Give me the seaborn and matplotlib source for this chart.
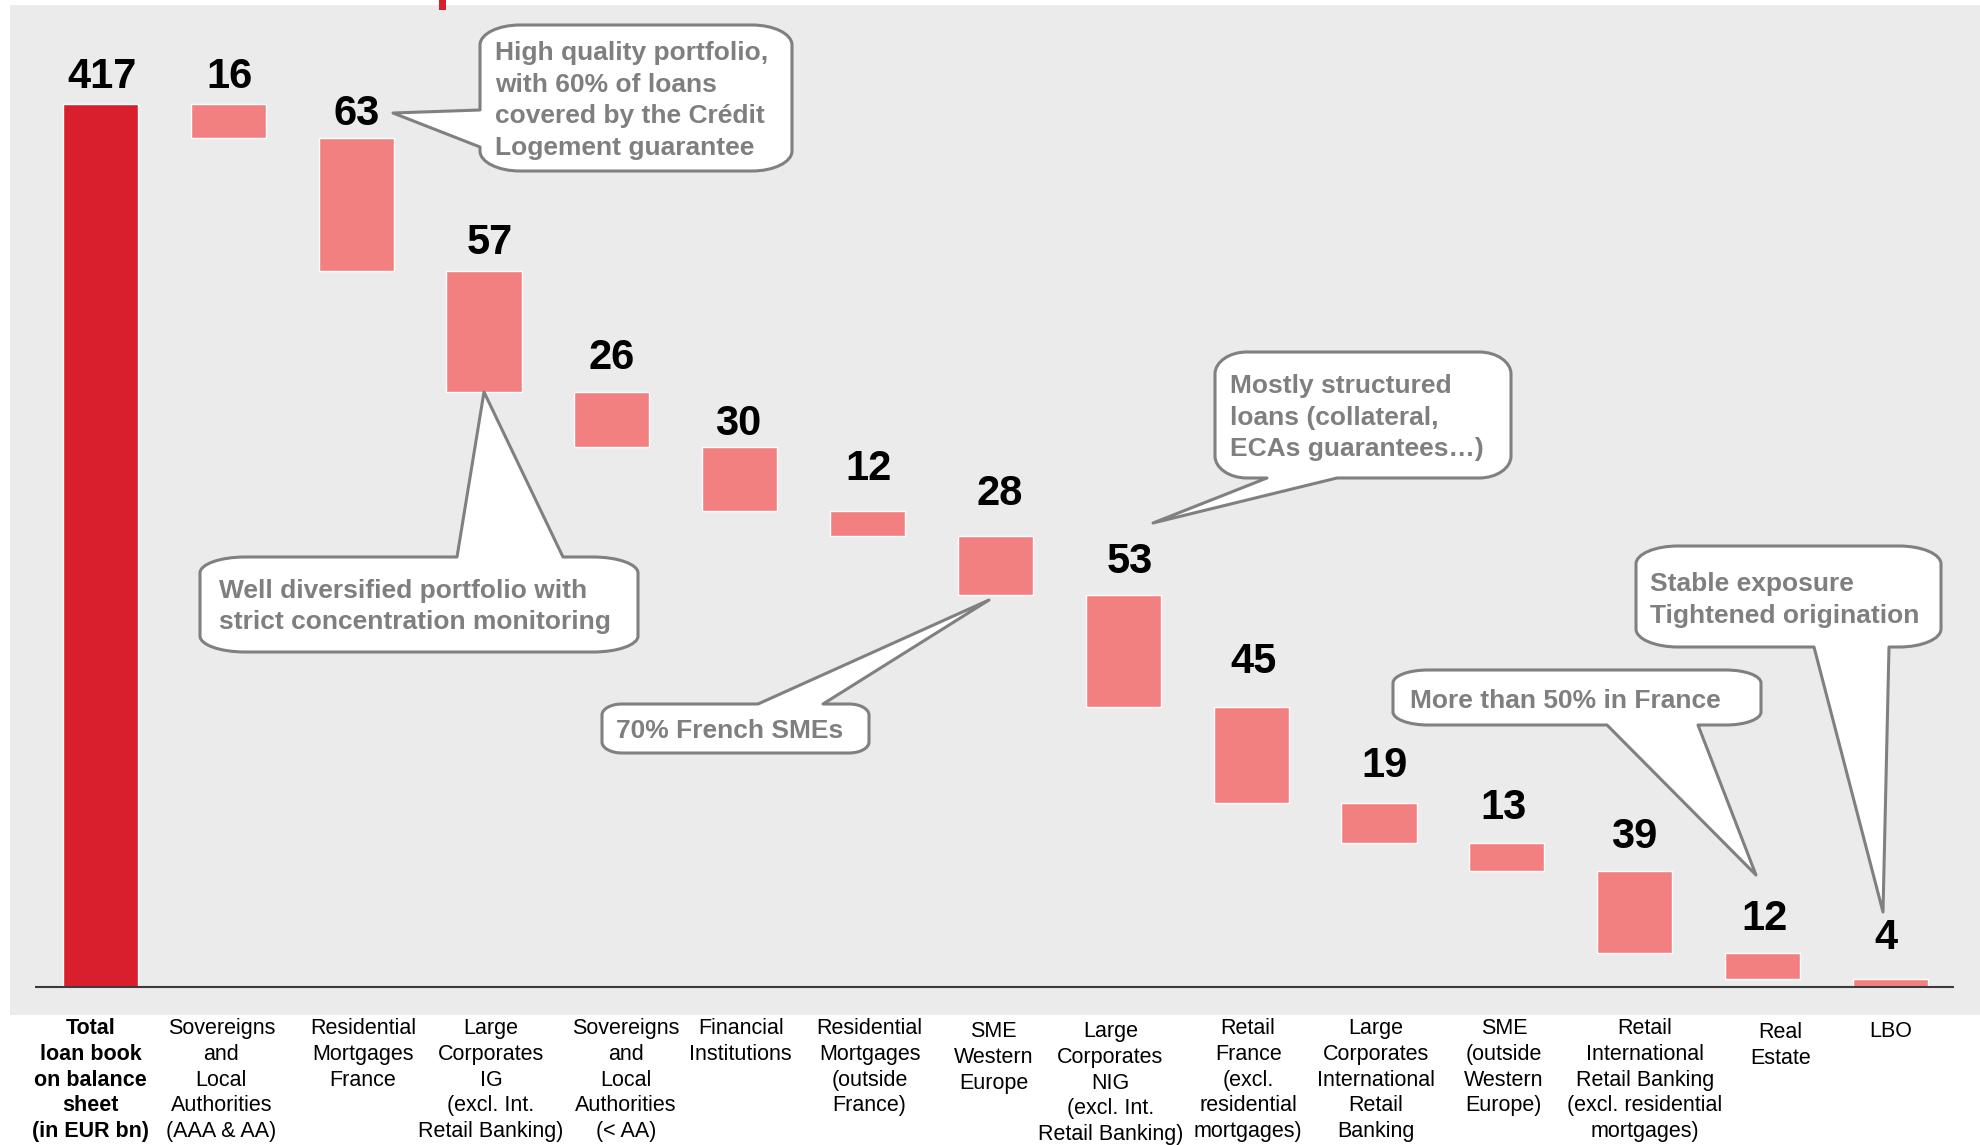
import matplotlib
matplotlib.use("Agg")
import numpy as np
import pandas as pd
import matplotlib.pyplot as plt
import matplotlib.transforms as mtransforms
from matplotlib.path import Path
from matplotlib.patches import PathPatch, Rectangle
import seaborn as sns

# ---------------------------------------------------------------- data
categories = [
    "Total\nloan book\non balance\nsheet\n(in EUR bn)",
    "Sovereigns\nand\nLocal\nAuthorities\n(AAA & AA)",
    "Residential\nMortgages\nFrance",
    "Large\nCorporates\nIG\n(excl. Int.\nRetail Banking)",
    "Sovereigns\nand\nLocal\nAuthorities\n(< AA)",
    "Financial\nInstitutions",
    "Residential\nMortgages\n(outside\nFrance)",
    "SME\nWestern\nEurope",
    "Large\nCorporates\nNIG\n(excl. Int.\nRetail Banking)",
    "Retail\nFrance\n(excl.\nresidential\nmortgages)",
    "Large\nCorporates\nInternational\nRetail\nBanking",
    "SME\n(outside\nWestern\nEurope)",
    "Retail\nInternational\nRetail Banking\n(excl. residential\nmortgages)",
    "Real\nEstate",
    "LBO",
]
total_value = 417
step_values = [16, 63, 57, 26, 30, 12, 28, 53, 45, 19, 13, 39, 12, 4]

callout_texts = [
    ["High quality portfolio,", "with 60% of loans", "covered by the Crédit", "Logement guarantee"],
    ["Well diversified portfolio with", "strict concentration monitoring"],
    ["70% French SMEs"],
    ["Mostly structured", "loans (collateral,", "ECAs guarantees…)"],
    ["More than 50% in France"],
    ["Stable exposure", "Tightened origination"],
]

# ---------------------------------------------------------------- style
RED = "#D91E2D"
SALMON = "#F28080"
PANEL = "#EBEBEB"
CALLOUT_EDGE = "#808080"
CALLOUT_TEXT = "#7F7F7F"

sns.set_theme(style="white")
plt.rcParams["font.family"] = ["Liberation Sans", "DejaVu Sans"]

W, H = 1981, 1145
fig = plt.figure(figsize=(W / 100, H / 100), dpi=100)
fig.patch.set_facecolor("white")

# main panel (grey area) in pixel geometry
px_left, px_top, px_right, px_bottom = 10, 5, 1981, 1015
ax = fig.add_axes([px_left / W, 1 - px_bottom / H,
                   (px_right - px_left) / W, (px_bottom - px_top) / H])
ax.set_facecolor(PANEL)

# ---------------------------------------------------------------- waterfall table
tops, bottoms = [], []
level = total_value
for v in step_values:
    tops.append(level)
    bottoms.append(level - v)
    level -= v

total_df = pd.DataFrame({"category": [categories[0]], "height": [total_value]})
steps_df = pd.DataFrame({"category": categories[1:],
                         "height": step_values,
                         "bottom": bottoms})

bar_width = 0.587
sns.barplot(data=total_df, x="category", y="height", order=categories,
            color=RED, saturation=1, width=bar_width, errorbar=None, ax=ax)
sns.barplot(data=steps_df, x="category", y="height", order=categories,
            color=SALMON, saturation=1, width=bar_width, errorbar=None,
            bottom=steps_df["bottom"].to_numpy(), ax=ax)

ax.set_xlim(-0.707, 14.708)
ax.set_ylim(-13.22, 463.75)
ax.set_xlabel("")
ax.set_ylabel("")
ax.tick_params(axis="both", length=0, labelbottom=False, labelleft=False)
for s in ax.spines.values():
    s.set_visible(False)

# baseline
ax.hlines(0, -0.511, 14.497, color="#3C3C3C", lw=1.5, zorder=5)

# value labels above each bar (pixel nudges relative to the bar top/centre)
label_gap = [16, 16, 13, 17, 23, 12, 31, 31, 22, 34, 26, 24, 23, 23, 30]
label_xoff = [2, 1, 1, 6, 0, -2, 1, 4, 7, 2, 5, -3, -1, 2, -5]
values = [total_value] + step_values
bar_tops = [total_value] + tops
for i, (val, top, gap, xo) in enumerate(zip(values, bar_tops, label_gap, label_xoff)):
    ax.annotate(f"{val}", xy=(i, top), xytext=(xo, gap),
                textcoords="offset pixels", ha="center", va="baseline",
                fontsize=30, fontweight="bold", color="black")

# category labels below the panel
label_dx = [-10, -7, 7, 7, 14, 1, 2, -2, -13, -3, -3, -3, 10, 18, 0]
label_dy = [0, 0, 0, 0, 0, 0, 0, 3, 3, 0, 0, 0, 0, 4, 3]
xlab_tf = mtransforms.blended_transform_factory(ax.transData, ax.transAxes)
for i, (txt, dx, dy) in enumerate(zip(categories, label_dx, label_dy)):
    ax.text(i, 0, txt,
            transform=xlab_tf + mtransforms.Affine2D().translate(dx, -(3 + dy)),
            ha="center", va="top", fontsize=15.5, linespacing=1.30,
            fontweight="bold" if i == 0 else "normal", color="black",
            clip_on=False)

# ---------------------------------------------------------------- callouts (pixel overlay)
ov = fig.add_axes([0, 0, 1, 1])
ov.set_xlim(0, W)
ov.set_ylim(H, 0)
ov.axis("off")
ov.patch.set_alpha(0)

ov.add_patch(Rectangle((439, 0), 7, 10, color=RED, lw=0))

K = 0.5523


def callout_path(box, radius, side, base, tip):
    x0, y0, x1, y1 = box
    rx, ry = radius
    verts, codes = [], []

    def move(p):
        verts.append(p); codes.append(Path.MOVETO)

    def line(p):
        verts.append(p); codes.append(Path.LINETO)

    def curve(c1, c2, p):
        verts.extend([c1, c2, p]); codes.extend([Path.CURVE4] * 3)

    move((x0 + rx, y0))
    if side == "top":
        line((base[0], y0)); line(tip); line((base[1], y0))
    line((x1 - rx, y0))
    curve((x1 - rx + K * rx, y0), (x1, y0 + ry - K * ry), (x1, y0 + ry))
    line((x1, y1 - ry))
    curve((x1, y1 - ry + K * ry), (x1 - rx + K * rx, y1), (x1 - rx, y1))
    if side == "bottom":
        line((base[1], y1)); line(tip); line((base[0], y1))
    line((x0 + rx, y1))
    curve((x0 + rx - K * rx, y1), (x0, y1 - ry + K * ry), (x0, y1 - ry))
    if side == "left":
        line((x0, base[1])); line(tip); line((x0, base[0]))
    line((x0, y0 + ry))
    curve((x0, y0 + ry - K * ry), (x0 + rx - K * rx, y0), (x0 + rx, y0))
    verts.append((x0 + rx, y0)); codes.append(Path.CLOSEPOLY)
    return Path(verts, codes)


callout_layout = [
    # box (x0, y0, x1, y1), corner radii, tail side, tail base, tail tip, text x, first baseline, pitch
    dict(box=(480, 25, 792, 171), r=(40, 20), side="left", base=(110, 147), tip=(393, 113),
         tx=495, ty=60, pitch=31.7),
    dict(box=(200, 557, 638, 652), r=(45, 16), side="top", base=(457, 563), tip=(484, 392),
         tx=219, ty=598, pitch=30.5),
    dict(box=(602, 704, 869, 753), r=(20, 11), side="top", base=(758, 823), tip=(989, 600),
         tx=616, ty=738, pitch=31),
    dict(box=(1215, 352, 1511, 478), r=(32, 22), side="bottom", base=(1267, 1337), tip=(1153, 523),
         tx=1230, ty=393, pitch=31.5),
    dict(box=(1393, 670, 1761, 725), r=(35, 13), side="bottom", base=(1607, 1698), tip=(1756, 875),
         tx=1410, ty=708, pitch=31),
    dict(box=(1636, 546, 1941, 647), r=(42, 18), side="bottom", base=(1814, 1889), tip=(1883, 912),
         tx=1650, ty=591, pitch=32),
]

for lay, lines in zip(callout_layout, callout_texts):
    path = callout_path(lay["box"], lay["r"], lay["side"], lay["base"], lay["tip"])
    ov.add_patch(PathPatch(path, facecolor="white", edgecolor=CALLOUT_EDGE,
                           lw=2.2, joinstyle="round", zorder=3))
    for k, line_txt in enumerate(lines):
        ov.text(lay["tx"], lay["ty"] + k * lay["pitch"], line_txt,
                ha="left", va="baseline", fontsize=19, fontweight="bold",
                color=CALLOUT_TEXT, zorder=4)

fig.savefig("out.png", dpi=100, facecolor="white")
